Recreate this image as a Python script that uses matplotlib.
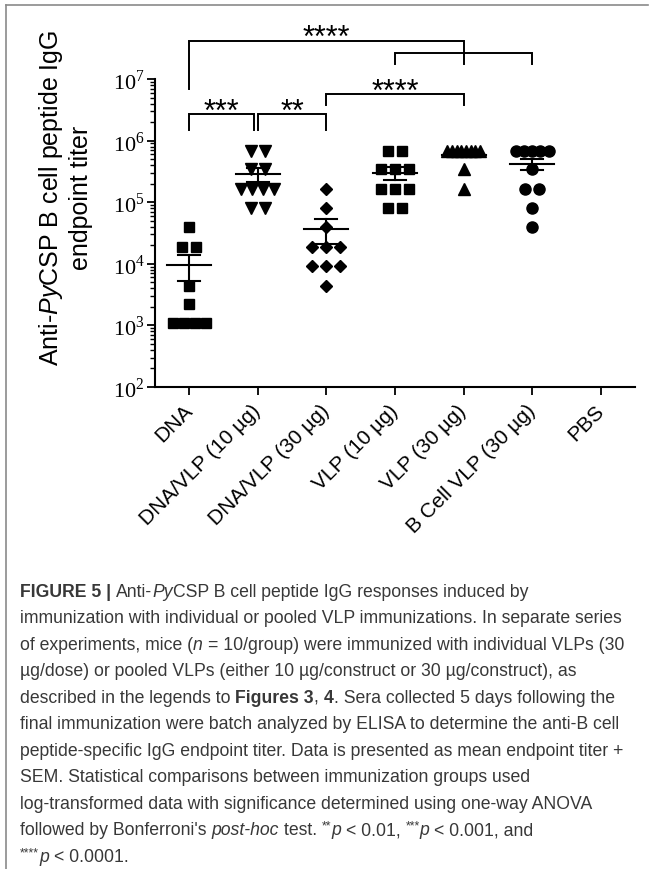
import matplotlib
matplotlib.use('Agg')
import matplotlib.pyplot as plt
import numpy as np
from matplotlib.ticker import LogLocator, FixedLocator, NullFormatter
from matplotlib.lines import Line2D

plt.rcParams['font.family'] = ['Liberation Sans', 'DejaVu Sans']
plt.rcParams['mathtext.fontset'] = 'custom'
plt.rcParams['mathtext.rm'] = 'Liberation Serif'
plt.rcParams['mathtext.it'] = 'Liberation Sans:italic'
plt.rcParams['mathtext.bf'] = 'Liberation Sans:bold'

W, H = 654, 870

# endpoint titers
groups = ['DNA', 'DNA/VLP (10 µg)', 'DNA/VLP (30 µg)', 'VLP (10 µg)',
          'VLP (30 µg)', 'B Cell VLP (30 µg)', 'PBS']
dna = [1100, 1100, 1100, 1100, 2200, 4400, 18500, 18500, 39000]
dna_vlp10 = [680000, 680000, 340000, 340000, 164000, 164000, 164000, 164000,
             80000, 80000]
dna_vlp30 = [164000, 80000, 39000, 18500, 18500, 18500, 9200, 9200, 9200, 4400]
vlp10 = [680000, 680000, 340000, 340000, 340000, 164000, 164000, 164000,
         80000, 80000]
vlp30 = [680000, 680000, 680000, 680000, 680000, 680000, 680000, 680000,
         340000, 164000]
bcell_vlp = [680000, 680000, 680000, 680000, 680000, 340000, 164000, 164000,
             80000, 39000]
pbs = []
titers = [dna, dna_vlp10, dna_vlp30, vlp10, vlp30, bcell_vlp, pbs]
markers = ['s', 'v', 'D', 's', '^', 'o', 'o']
msizes = [7.5, 8, 6, 7.5, 8, 8, 8]

# significance brackets: x1, x2, bar, left leg end, right leg end, label
brackets = [
    (0, 4, 4.2e7, 6.9e6, 1.75e7, '****'),
    (3, 5, 2.64e7, 1.75e7, 1.75e7, ''),
    (2, 4, 5.7e6, 3.8e6, 3.8e6, '****'),
    (0, 0.94, 2.7e6, 1.49e6, 1.49e6, '***'),
    (1, 2, 2.7e6, 1.49e6, 1.49e6, '**'),
]


def spread(vals, step_max=0.205, width=0.48):
    vals = np.asarray(vals, dtype=float)
    xs = np.zeros(len(vals))
    for v in np.unique(vals):
        idx = np.where(vals == v)[0]
        k = len(idx)
        if k > 1:
            step = min(step_max, width / (k - 1))
            xs[idx] = (np.arange(k) - (k - 1) / 2) * step
    return xs


fig = plt.figure(figsize=(W / 100, H / 100), dpi=100)
ax = fig.add_axes([155 / W, 1 - 388 / H, 480 / W, 308 / H])

for i, vals in enumerate(titers):
    if len(vals) == 0:
        continue
    vals = np.asarray(vals, dtype=float)
    ax.plot(i + spread(vals), vals, linestyle='none', marker=markers[i],
            ms=msizes[i], color='black', mec='black', clip_on=False, zorder=3)
    m = vals.mean()
    sem = vals.std(ddof=1) / np.sqrt(len(vals))
    ax.plot([i - 0.32, i + 0.32], [m, m], color='black', lw=1.5, zorder=4)
    ax.plot([i, i], [m - sem, m + sem], color='black', lw=1.5, zorder=4)
    for e in (m - sem, m + sem):
        ax.plot([i - 0.16, i + 0.16], [e, e], color='black', lw=1.5, zorder=4)

for x1, x2, yb, yl, yr, lab in brackets:
    ax.plot([x1, x1, x2, x2], [yl, yb, yb, yr], color='black', lw=1.4,
            clip_on=False, solid_joinstyle='miter')
    if lab:
        ax.annotate(lab, xy=((x1 + x2) / 2, yb), xytext=(0, -4),
                    textcoords='offset points', ha='center', va='baseline',
                    fontsize=22, annotation_clip=False)

ax.set_yscale('log')
ax.set_ylim(1e2, 1e7)
ax.set_xlim(-0.5, 6.5)
ax.yaxis.set_major_locator(FixedLocator([10.0 ** k for k in range(2, 8)]))
ax.yaxis.set_minor_locator(LogLocator(base=10, subs=np.arange(2, 10)))
ax.yaxis.set_minor_formatter(NullFormatter())
ax.set_yticklabels([r'$10^{%d}$' % k for k in range(2, 8)], fontsize=16)
ax.set_xticks(range(len(groups)))
ax.set_xticklabels(groups, rotation=45, ha='right', va='center',
                   rotation_mode='anchor', fontsize=15)
ax.tick_params(axis='x', length=5.5, width=1.3, pad=9)
ax.tick_params(axis='y', which='major', length=5.5, width=1.3, pad=2)
ax.tick_params(axis='y', which='minor', length=3.5, width=1.0)
for s in ('top', 'right'):
    ax.spines[s].set_visible(False)
for s in ('left', 'bottom'):
    ax.spines[s].set_linewidth(1.5)

fig.text(65 / W, 1 - 198 / H,
         'Anti-$\\mathit{Py}$CSP B cell peptide IgG\nendpoint titer',
         rotation=90, ha='center', va='center', multialignment='center',
         fontsize=18, linespacing=1.25)

# frame around the figure panel
fig.add_artist(Line2D([6 / W, 6 / W], [0, 1 - 6 / H], color='#8a8a8a', lw=1.2))
fig.add_artist(Line2D([6 / W, 648 / W], [1 - 6 / H, 1 - 6 / H],
                      color='#8a8a8a', lw=1.2))

# caption
cap_color = '#383838'
R, B, I = {}, {'weight': 'bold'}, {'style': 'italic'}
SUP = {'scale': 0.7, 'rise': 6}
caption = [
    [('FIGURE 5 | ', B), ('Anti-', R), ('Py', I),
     ('CSP B cell peptide IgG responses induced by', R)],
    [('immunization with individual or pooled VLP immunizations. In separate series', R)],
    [('of experiments, mice (', R), ('n ', I),
     ('= 10/group) were immunized with individual VLPs (30', R)],
    [('µg/dose) or pooled VLPs (either 10 µg/construct or 30 µg/construct), as', R)],
    [('described in the legends to ', R), ('Figures 3', B), (', ', R), ('4', B),
     ('. Sera collected 5 days following the', R)],
    [('final immunization were batch analyzed by ELISA to determine the anti-B cell', R)],
    [('peptide-specific IgG endpoint titer. Data is presented as mean endpoint titer +', R)],
    [('SEM. Statistical comparisons between immunization groups used', R)],
    [('log-transformed data with significance determined using one-way ANOVA', R)],
    [("followed by Bonferroni's ", R), ('post-hoc ', I), ('test. ', R),
     ('**', SUP), ('p ', I), ('< 0.01, ', R), ('***', SUP), ('p ', I),
     ('< 0.001, and', R)],
    [('****', SUP), ('p ', I), ('< 0.0001.', R)],
]

renderer = fig.canvas.get_renderer()


def seg_width(txt, size, style):
    probe = fig.text(0, 0, txt + '|', fontsize=size, **style)
    bar = fig.text(0, 0, '|', fontsize=size, **style)
    w = (probe.get_window_extent(renderer).width
         - bar.get_window_extent(renderer).width)
    probe.remove()
    bar.remove()
    return w


size = 12.7
for li, parts in enumerate(caption):
    x = 20
    y = 597 + li * 26.5
    for txt, st in parts:
        st = dict(st)
        sc = st.pop('scale', 1)
        rise = st.pop('rise', 0)
        fs = size * sc
        fig.text(x / W, 1 - (y - rise) / H, txt, fontsize=fs, color=cap_color,
                 ha='left', va='baseline', **st)
        x += seg_width(txt, fs, st)

fig.savefig('out.png', dpi=100)
